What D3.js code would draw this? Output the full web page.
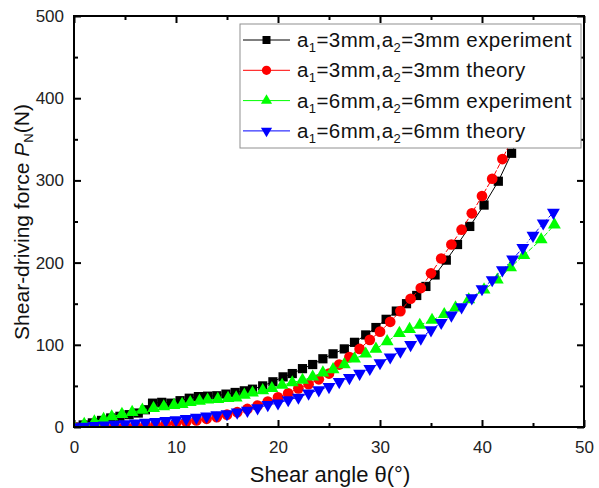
<!DOCTYPE html>
<html>
<head>
<meta charset="utf-8">
<script src="https://cdn.jsdelivr.net/npm/d3@7"></script>
<style>
  body { margin: 0; background: #fff; }
  svg { font-family: "Liberation Sans", Arial, sans-serif; }
</style>
</head>
<body>
<div class="chart"></div>
<script>
// data (shear angle in deg, force in N)
var exp3Theta = [0, 0.9, 1.8, 2.7, 3.6, 4.5, 5.4, 6.3, 7.0, 7.7, 8.6, 9.5, 10.4, 11.3, 12.2, 13.1, 14.0, 14.9, 15.8, 16.7, 17.5, 18.5, 19.5, 20.5, 21.4, 22.4, 23.4, 24.4, 25.4, 26.5, 27.5, 28.6, 29.6, 30.6, 31.6, 32.6, 33.6, 34.5, 35.4, 36.5, 37.6, 38.8, 40.2, 41.6, 42.9, 44.2];
var exp3Force = [0, 2.5, 5, 8, 11, 13, 15, 17, 21, 29, 30, 29, 32, 35, 37, 37.5, 38, 40, 42, 44, 46, 50, 55, 61, 65, 71, 76, 83, 89, 95, 103, 112, 121, 131, 141, 150, 160, 171, 185, 203, 222, 244, 270, 299, 333, 370];

var theo3Theta = d3.range(0, 44);
var theo3Force = [0, 0.1, 0.2, 0.5, 0.8, 1.2, 1.7, 2.3, 3, 4, 5, 6.5, 8, 10, 12, 15, 18, 22, 26, 31, 36, 41, 47, 52, 58, 65, 76, 85, 95, 106, 116, 128, 141, 156, 169, 187, 205, 222, 240, 260, 281, 302, 326, 352];

var exp6Theta = [0, 1.0, 2.0, 2.9, 3.7, 4.7, 5.7, 6.7, 7.8, 8.8, 9.8, 10.6, 11.4, 12.3, 13.1, 14.1, 15.1, 15.9, 16.7, 17.5, 18.5, 19.4, 20.4, 21.4, 22.4, 23.4, 24.4, 25.4, 26.5, 27.5, 28.6, 29.6, 30.7, 31.9, 32.9, 33.9, 35.1, 36.3, 37.4, 38.7, 40.2, 41.5, 42.8, 44.1, 45.8, 47.1];
var exp6Force = [0, 3.5, 6.5, 9.4, 12.6, 15.5, 18, 20.7, 22.8, 24.8, 26.5, 27.6, 30, 31.7, 33, 33.8, 35, 35.5, 39, 41.5, 44.5, 47, 51, 54, 57, 61, 66, 70, 76, 83, 89, 95, 104, 114, 119, 124, 130, 137, 145, 155, 167, 179, 194, 209, 228, 246];

var theo6Theta = d3.range(0, 48);
var theo6Force = [0, 0.7, 1.5, 2.2, 3, 3.8, 4.5, 5.5, 6.5, 7.5, 8.5, 10, 11.5, 13, 14.5, 16, 18, 20, 23, 27, 29, 33, 36, 41, 45, 49, 55, 60, 65, 71, 78, 85, 92, 100, 108, 118, 127, 136, 146, 157, 168, 179, 191, 204, 218, 233, 248, 261];

var xTicks = [0, 10, 20, 30, 40, 50];
var yTicks = [0, 100, 200, 300, 400, 500];
var xMinor = [5, 15, 25, 35, 45];
var yMinor = [50, 150, 250, 350, 450];

var svgWidth = 599, svgHeight = 488;
var margin = { top: 16, right: 15, bottom: 61, left: 74 };
var width = svgWidth - margin.left - margin.right;
var height = svgHeight - margin.top - margin.bottom;

var svg = d3.select(".chart").append("svg")
  .attr("width", svgWidth)
  .attr("height", svgHeight);

var chartGroup = svg.append("g")
  .attr("transform", `translate(${margin.left}, ${margin.top})`);

var xScale = d3.scaleLinear().domain([0, 50]).range([0, width]);
var yScale = d3.scaleLinear().domain([0, 500]).range([height, 0]);

chartGroup.append("clipPath").attr("id", "plotclip")
  .append("rect").attr("width", width).attr("height", height);

// axes: major ticks inward with labels, minor ticks inward
function styleAxis(g) {
  g.select(".domain").remove();
  g.selectAll(".tick line").attr("stroke", "#000").attr("stroke-width", 2);
  g.selectAll(".tick text").attr("fill", "#222").style("font-size", "17px");
}

chartGroup.append("g").attr("transform", `translate(0, ${height})`)
  .call(d3.axisBottom(xScale).tickValues(xTicks).tickSize(-7).tickPadding(14))
  .call(styleAxis);
chartGroup.append("g").attr("transform", `translate(0, ${height})`)
  .call(d3.axisBottom(xScale).tickValues(xMinor).tickSize(-4).tickFormat(""))
  .call(styleAxis);
chartGroup.append("g")
  .call(d3.axisTop(xScale).tickValues(xTicks).tickSize(-7).tickFormat(""))
  .call(styleAxis);
chartGroup.append("g")
  .call(d3.axisTop(xScale).tickValues(xMinor).tickSize(-4).tickFormat(""))
  .call(styleAxis);

chartGroup.append("g")
  .call(d3.axisLeft(yScale).tickValues(yTicks).tickSize(-7).tickPadding(10))
  .call(styleAxis);
chartGroup.append("g")
  .call(d3.axisLeft(yScale).tickValues(yMinor).tickSize(-4).tickFormat(""))
  .call(styleAxis);
chartGroup.append("g").attr("transform", `translate(${width}, 0)`)
  .call(d3.axisRight(yScale).tickValues(yTicks).tickSize(-7).tickFormat(""))
  .call(styleAxis);
chartGroup.append("g").attr("transform", `translate(${width}, 0)`)
  .call(d3.axisRight(yScale).tickValues(yMinor).tickSize(-4).tickFormat(""))
  .call(styleAxis);

// series
var series = [
  { theta: exp3Theta, force: exp3Force, color: "#000000", dash: null, symbol: d3.symbolSquare, size: 85, rot: 0 },
  { theta: theo3Theta, force: theo3Force, color: "#ff0000", dash: "5,2", symbol: d3.symbolCircle, size: 90, rot: 0 },
  { theta: exp6Theta, force: exp6Force, color: "#00ff00", dash: "5,2", symbol: d3.symbolTriangle, size: 72, rot: 0 },
  { theta: theo6Theta, force: theo6Force, color: "#0000ff", dash: "5,2,1,2", symbol: d3.symbolTriangle, size: 72, rot: 180 }
];

var line = d3.line()
  .x(d => xScale(d[0]))
  .y(d => yScale(d[1]));

var plot = chartGroup.append("g").attr("clip-path", "url(#plotclip)");

series.forEach(function(s) {
  var pts = s.theta.map((t, i) => [t, s.force[i]]);
  var g = plot.append("g");
  g.append("path")
    .datum(pts)
    .attr("d", line)
    .attr("fill", "none")
    .attr("stroke", s.color)
    .attr("stroke-width", 1)
    .attr("stroke-dasharray", s.dash);
  g.selectAll("path.mark")
    .data(pts)
    .enter()
    .append("path")
    .attr("class", "mark")
    .attr("d", d3.symbol().type(s.symbol).size(s.size))
    .attr("transform", d => `translate(${xScale(d[0])}, ${yScale(d[1])}) rotate(${s.rot})`)
    .attr("fill", s.color);
});

// frame
chartGroup.append("rect")
  .attr("width", width)
  .attr("height", height)
  .attr("fill", "none")
  .attr("stroke", "#000")
  .attr("stroke-width", 2);

// legend
var legend = chartGroup.append("g").attr("transform", "translate(166, 8)");
legend.append("rect")
  .attr("width", 341)
  .attr("height", 124)
  .attr("fill", "#fff")
  .attr("stroke", "#909090")
  .attr("stroke-width", 1);

var legendLabels = [
  ["3", "3", "experiment"],
  ["3", "3", "theory"],
  ["6", "6", "experiment"],
  ["6", "6", "theory"]
];

series.forEach(function(s, i) {
  var row = legend.append("g").attr("transform", `translate(0, ${16 + i * 30.3})`);
  row.append("line")
    .attr("x1", 3).attr("x2", 50)
    .attr("stroke", s.color).attr("stroke-width", 1);
  row.append("path")
    .attr("d", d3.symbol().type(s.symbol).size(s.size * 0.75))
    .attr("transform", `translate(26.5, 0) rotate(${s.rot})`)
    .attr("fill", s.color);
  var lab = legendLabels[i];
  var t = row.append("text")
    .attr("x", 57).attr("y", 7)
    .style("font-size", "20.5px")
    .style("letter-spacing", "0.4px")
    .attr("fill", "#111");
  t.append("tspan").text("a");
  t.append("tspan").attr("dy", 5).style("font-size", "13px").text("1");
  t.append("tspan").attr("dy", -5).text("=" + lab[0] + "mm,a");
  t.append("tspan").attr("dy", 5).style("font-size", "13px").text("2");
  t.append("tspan").attr("dy", -5).text("=" + lab[1] + "mm " + lab[2]);
});

// axis titles
svg.append("text")
  .attr("x", margin.left + width / 2 + 1)
  .attr("y", 482)
  .attr("text-anchor", "middle")
  .style("font-size", "22px")
  .attr("fill", "#111")
  .text("Shear angle \u03b8(\u00b0)");

var yTitle = svg.append("text")
  .attr("transform", "translate(29, 222) rotate(-90)")
  .attr("text-anchor", "middle")
  .style("font-size", "21px")
  .attr("fill", "#111");
yTitle.append("tspan").text("Shear-driving force ");
yTitle.append("tspan").style("font-style", "italic").text("P");
yTitle.append("tspan").attr("dy", 4).style("font-size", "13px").text("N");
yTitle.append("tspan").attr("dy", -4).text("(N)");
</script>
</body>
</html>
